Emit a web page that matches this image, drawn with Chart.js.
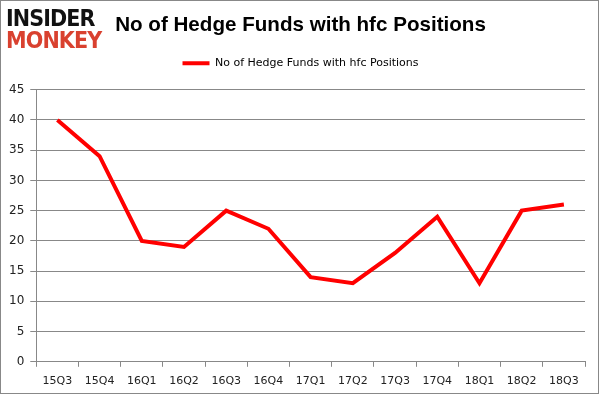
<!DOCTYPE html>
<html>
<head>
<meta charset="utf-8">
<script src="https://cdn.jsdelivr.net/npm/chart.js@4"></script>
<style>
  body { margin: 0; background: #fff; }
  #frame { position: relative; width: 599px; height: 394px; box-sizing: border-box; border: 1px solid #888; }
  #logo { position: absolute; left: 5px; top: 6px; font-family: "DejaVu Sans", sans-serif; font-weight: bold; line-height: 22px; font-size: 23px; letter-spacing: -1px; transform: scaleX(0.9); transform-origin: left top; }
  #logo .a { color: #111; }
  #logo .b { color: #d9412f; }
</style>
</head>
<body>
<div id="frame">
  <canvas id="grafico" width="597" height="392"></canvas>
  <div id="logo"><div class="a">INSIDER</div><div class="b">MONKEY</div></div>
</div>
<script>
// datos
const trimestres = ['15Q3', '15Q4', '16Q1', '16Q2', '16Q3', '16Q4', '17Q1', '17Q2', '17Q3', '17Q4', '18Q1', '18Q2', '18Q3'];
const fondos = [40, 34, 20, 19, 25, 22, 14, 13, 18, 24, 13, 25, 26];
const etiquetaSerie = 'No of Hedge Funds with hfc Positions';
const tituloGrafico = 'No of Hedge Funds with hfc Positions';

// espacio extra bajo la leyenda
const espacioLeyenda = {
    id: 'espacioLeyenda',
    beforeInit(chart) {
        const fitOriginal = chart.legend.fit;
        chart.legend.fit = function () {
            fitOriginal.bind(chart.legend)();
            this.height += 11;
        };
    }
};

const ctx = document.getElementById('grafico');
new Chart(ctx, {
    type: 'line',
    data: {
        labels: trimestres,
        datasets: [{
            label: etiquetaSerie,
            data: fondos,
            borderColor: '#ff0000',
            backgroundColor: '#ff0000',
            borderWidth: 4,
            pointRadius: 0,
            tension: 0
        }]
    },
    options: {
        responsive: false,
        animation: false,
        layout: { padding: { top: 10, left: 2, right: 0, bottom: 0 } },
        plugins: {
            title: {
                display: true,
                text: tituloGrafico,
                color: '#000',
                font: { family: 'Liberation Sans', size: 20.6, weight: 'bold' },
                padding: { top: 2, bottom: 10 }
            },
            legend: {
                display: true,
                labels: {
                    color: '#000',
                    font: { family: 'DejaVu Sans', size: 11 },
                    boxWidth: 27,
                    boxHeight: 4,
                    padding: 10,
                    generateLabels: (chart) => {
                        const items = Chart.defaults.plugins.legend.labels.generateLabels(chart);
                        items.forEach(it => { it.lineWidth = 0; });
                        return items;
                    }
                }
            },
            tooltip: { enabled: false }
        },
        scales: {
            x: {
                offset: true,
                grid: { drawOnChartArea: false, drawTicks: true, tickLength: 5, color: '#888', offset: true },
                border: { color: '#888' },
                ticks: { color: '#222', font: { family: 'DejaVu Sans', size: 11 }, maxRotation: 0, padding: 8 },
                afterFit: (escala) => { escala.height -= 3; }
            },
            y: {
                min: 0,
                max: 45,
                ticks: { stepSize: 5, color: '#222', font: { family: 'DejaVu Sans', size: 12 }, padding: 6 },
                grid: { color: '#888', tickLength: 6 },
                border: { color: '#888' }
            },
            // eje vacío a la derecha, solo para dejar margen
            margenDer: {
                position: 'right',
                min: 0,
                max: 45,
                ticks: { display: false },
                grid: { drawOnChartArea: false, drawTicks: false },
                border: { display: false },
                afterFit: (escala) => { escala.width = 13; }
            }
        }
    },
    plugins: [espacioLeyenda]
});
</script>
</body>
</html>
